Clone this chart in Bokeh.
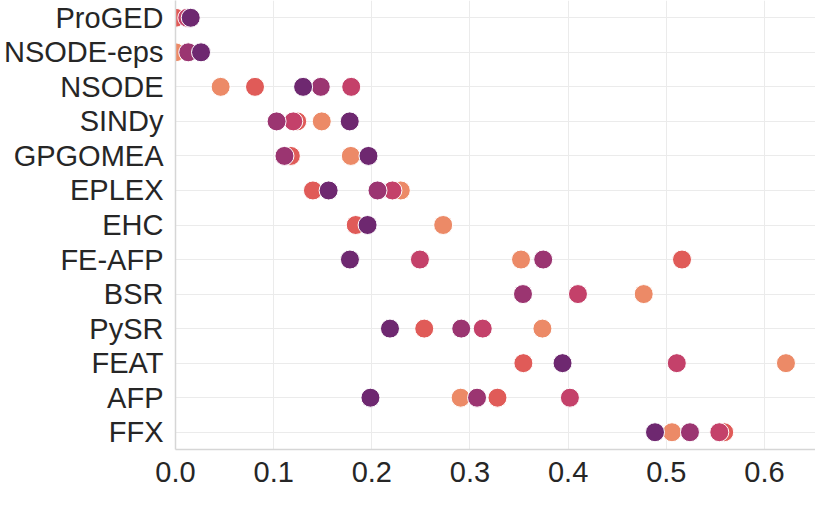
from bokeh.plotting import figure
from bokeh.models import FactorRange, Range1d, ColumnDataSource, SingleIntervalTicker, PrintfTickFormatter
from bokeh.embed import file_html
from bokeh.resources import INLINE

nan = float("nan")

methods = ["ProGED", "NSODE-eps", "NSODE", "SINDy", "GPGOMEA", "EPLEX", "EHC",
           "FE-AFP", "BSR", "PySR", "FEAT", "AFP", "FFX"]

# values per method (same order as methods); NaN = not visible
series_red    = [0.0,    0.0,   0.081, 0.124, 0.1175, 0.140,  0.1836, 0.516,  nan,   0.2534, 0.3544, 0.328,  0.559]
series_orange = [nan,    0.0,   0.046, 0.149, 0.1786, 0.2295, 0.2727, 0.352,  0.477, 0.3738, 0.6219, 0.2905, 0.5058]
series_pink   = [0.012,  nan,   0.179, 0.120, nan,    0.221,  nan,    0.249,  0.410, 0.3130, 0.5107, 0.4018, 0.554]
series_purple = [nan,    0.013, 0.148, 0.103, 0.111,  0.2058, nan,    0.3746, 0.354, 0.2911, nan,    0.3072, 0.5241]
series_dark   = [0.0155, 0.026, 0.130, 0.1775, 0.1966, 0.156, 0.1957, 0.1777, nan,   0.2185, 0.3943, 0.1986, 0.4885]

series = [
    (series_red, "#e05b58"),
    (series_orange, "#ec8a67"),
    (series_pink, "#c4416a"),
    (series_purple, "#9b3571"),
    (series_dark, "#6e2870"),
]

p = figure(width=815, height=491,
           y_range=FactorRange(factors=methods[::-1]),
           x_range=Range1d(0, 0.652),
           output_backend="svg", toolbar_location=None,
           min_border_top=0, min_border_right=0, min_border_left=0, min_border_bottom=42)

p.outline_line_color = None
p.background_fill_color = "white"
p.border_fill_color = "white"

for vals, col in series:
    src = ColumnDataSource(dict(x=vals, y=methods))
    p.scatter(x="x", y="y", source=src, size=19, fill_color=col,
              line_color="white", line_width=1)

p.xaxis.ticker = SingleIntervalTicker(interval=0.1)
p.xaxis.formatter = PrintfTickFormatter(format="%.1f")

for ax in (p.xaxis, p.yaxis):
    ax.major_tick_line_color = None
    ax.minor_tick_line_color = None
    ax.axis_line_color = "#d6d6d6"
    ax.axis_line_width = 1.5
    ax.major_label_text_font = "Liberation Sans"
    ax.major_label_text_font_size = "29px"
    ax.major_label_text_color = "#262626"

p.xaxis.major_label_standoff = 6
p.yaxis.major_label_standoff = 6

p.xgrid.grid_line_color = "#ebebeb"
p.ygrid.grid_line_color = "#ebebeb"
p.xgrid.grid_line_width = 1
p.ygrid.grid_line_width = 1

open("out.html", "w").write(file_html(p, INLINE))
